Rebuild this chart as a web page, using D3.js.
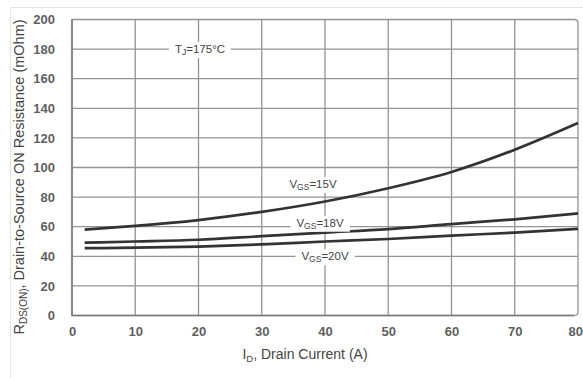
<!DOCTYPE html>
<html>
<head>
<meta charset="utf-8">
<script src="https://cdn.jsdelivr.net/npm/d3@7"></script>
<style>
  html, body { margin: 0; padding: 0; background: #fff; }
  svg { display: block; font-family: "Liberation Sans", Arial, sans-serif; }
</style>
</head>
<body>
<svg id="chart" width="583" height="378"></svg>
<script>
// Drain current (A) sample points
const current = [2, 10, 20, 30, 40, 50, 60, 70, 80];
// On-resistance (mOhm) at Tj = 175°C for each gate drive
const rds15 = [58, 60.5, 64.5, 70, 77, 86, 97, 112, 130];
const rds18 = [49.2, 50, 51.2, 53.6, 56, 58.4, 61.8, 65, 69];
const rds20 = [45.5, 45.8, 46.6, 48, 50, 51.7, 54, 56, 58.5];

const xTicks = [0, 10, 20, 30, 40, 50, 60, 70, 80];
const yTicks = [0, 20, 40, 60, 80, 100, 120, 140, 160, 180, 200];

const svg = d3.select("#chart");
const W = 583, H = 378;
const m = { left: 72, right: 5, top: 19.5, bottom: 62.5 };

const x = d3.scaleLinear().domain([0, 80]).range([m.left, W - m.right]);
const y = d3.scaleLinear().domain([0, 200]).range([H - m.bottom, m.top]);

// outer frame
svg.append("path")
  .attr("d", `M10.5,${H} V7.5 H${W}`)
  .attr("fill", "none").attr("stroke", "#e4e4e4").attr("stroke-width", 1);

const grid = svg.append("g");
// vertical grid lines
grid.selectAll("line.v").data(xTicks.slice(1, -1)).join("line")
  .attr("x1", d => x(d)).attr("x2", d => x(d))
  .attr("y1", y(0)).attr("y2", y(200))
  .attr("stroke", "#939393").attr("stroke-width", 1.3);
// horizontal grid lines
grid.selectAll("line.h").data(yTicks.slice(1, -1)).join("line")
  .attr("x1", x(0)).attr("x2", x(80))
  .attr("y1", d => y(d)).attr("y2", d => y(d))
  .attr("stroke", "#939393").attr("stroke-width", 1.3);

// plot border (rounded top-right corner)
const r = 4;
svg.append("path")
  .attr("d", `M${x(0)},${y(0)} V${y(200)} H${x(80) - r} Q${x(80)},${y(200)} ${x(80)},${y(200) + r} V${y(0) - r} Q${x(80)},${y(0)} ${x(80) - r},${y(0)} Z`)
  .attr("fill", "none").attr("stroke", "#939393").attr("stroke-width", 1.3);
svg.append("path")
  .attr("d", `M${x(0)},${y(200)} V${y(0)} H${x(80) - r}`)
  .attr("fill", "none").attr("stroke", "#7c7c7c").attr("stroke-width", 1.6);

// axes tick labels
const xAxis = d3.axisBottom(x).tickValues(xTicks).tickSize(0).tickPadding(11);
const gx = svg.append("g").attr("transform", `translate(0,${y(0)})`).call(xAxis);
gx.select(".domain").remove();
gx.selectAll("text").attr("font-size", 13).attr("fill", "#444")
  .attr("font-family", "Liberation Sans, Arial, sans-serif").attr("font-weight", "bold").attr("opacity", 0.85);
// keep the last label inside the window edge
gx.selectAll(".tick").filter(d => d === 80).select("text")
  .attr("text-anchor", "end").attr("x", W - x(80) - 0.5);

const yAxis = d3.axisLeft(y).tickValues(yTicks).tickSize(0).tickPadding(17);
const gy = svg.append("g").attr("transform", `translate(${x(0)},0)`).call(yAxis);
gy.select(".domain").remove();
gy.selectAll("text").attr("font-size", 13).attr("fill", "#444")
  .attr("font-family", "Liberation Sans, Arial, sans-serif").attr("font-weight", "bold").attr("opacity", 0.85);

// curves
const line = d3.line().x(d => x(d[0])).y(d => y(d[1])).curve(d3.curveMonotoneX);
[rds15, rds18, rds20].forEach(series => {
  svg.append("path")
    .datum(current.map((c, i) => [c, series[i]]))
    .attr("d", line)
    .attr("fill", "none").attr("stroke", "#333").attr("stroke-width", 2.7);
});

// in-plot labels with white backing that breaks the grid
function label(cx, cy, parts) {
  const g = svg.append("g");
  const t = g.append("text").attr("x", cx).attr("y", cy)
    .attr("text-anchor", "middle").attr("dominant-baseline", "central")
    .attr("font-size", 11.5).attr("fill", "#444");
  parts.forEach(p => {
    const ts = t.append("tspan").text(p.t);
    if (p.sub) ts.attr("font-size", 8.5).attr("dy", 3);
    if (p.up) ts.attr("dy", -3);
  });
  const b = t.node().getBBox();
  g.insert("rect", "text").attr("x", b.x - 6).attr("y", b.y - 1)
    .attr("width", b.width + 12).attr("height", b.height + 2).attr("fill", "#fff");
}
label(200, y(180), [{ t: "T" }, { t: "J", sub: true }, { t: "=175°C", up: true }]);
label(313, 184, [{ t: "V" }, { t: "GS", sub: true }, { t: "=15V", up: true }]);
label(320, y(60) - 4, [{ t: "V" }, { t: "GS", sub: true }, { t: "=18V", up: true }]);
label(325, y(40), [{ t: "V" }, { t: "GS", sub: true }, { t: "=20V", up: true }]);

// axis titles
const xt = svg.append("text").attr("x", 305).attr("y", 358.5)
  .attr("text-anchor", "middle").attr("font-size", 14).attr("fill", "#444");
xt.append("tspan").text("I");
xt.append("tspan").text("D").attr("font-size", 9.5).attr("dy", 3);
xt.append("tspan").text(", Drain Current (A)").attr("dy", -3);

const yt = svg.append("text").attr("transform", `translate(24,${177}) rotate(-90)`)
  .attr("text-anchor", "middle").attr("font-size", 14.5).attr("fill", "#444");
yt.append("tspan").text("R");
yt.append("tspan").text("DS(ON)").attr("font-size", 10).attr("dy", 3);
yt.append("tspan").text(", Drain-to-Source ON Resistance (mOhm)").attr("dy", -3);
</script>
</body>
</html>
